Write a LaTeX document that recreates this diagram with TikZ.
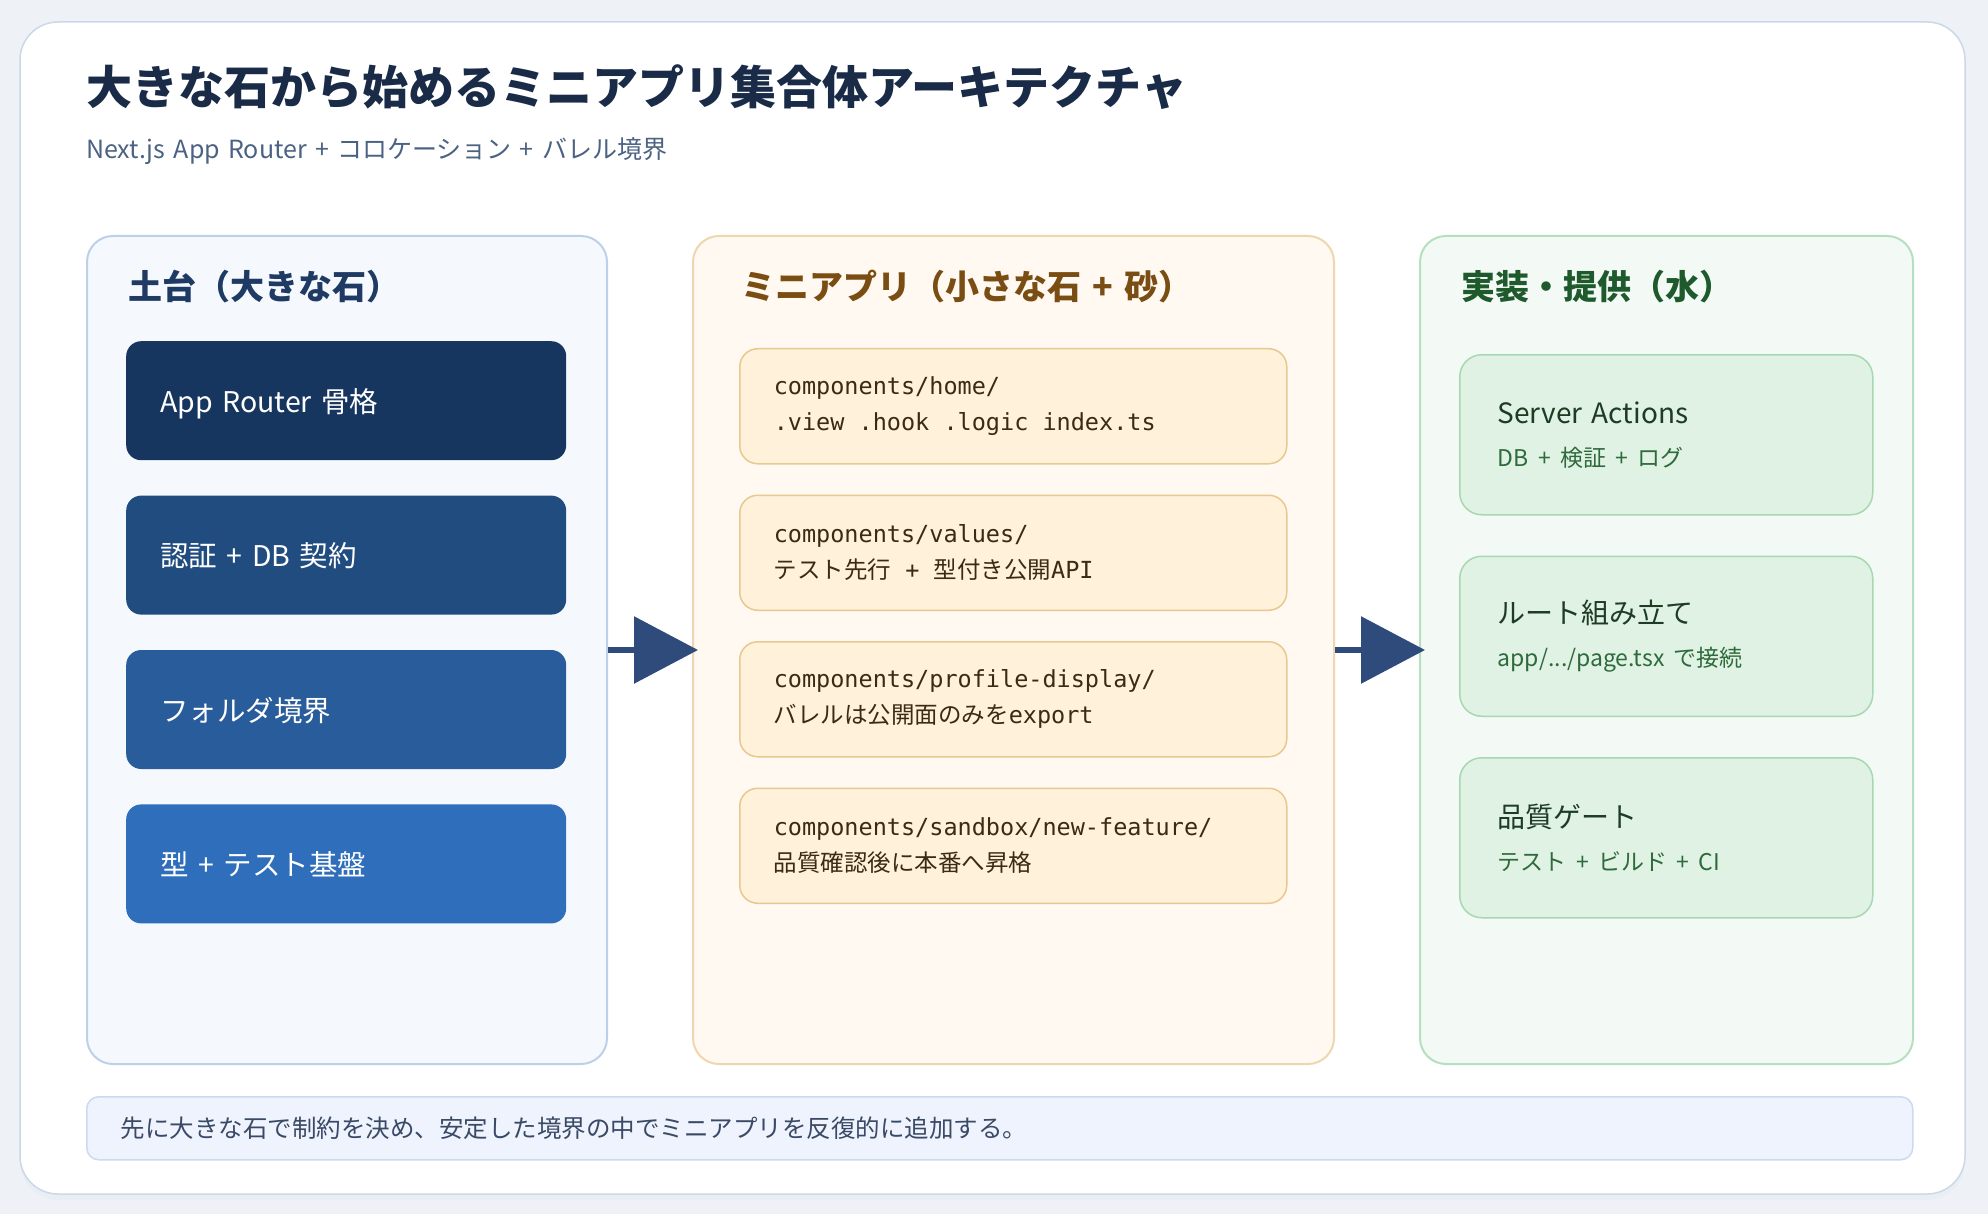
\documentclass[tikz,border=0pt]{standalone}
\usepackage{fontspec}
\setmainfont{Noto Sans CJK JP}
\setmonofont{DejaVu Sans Mono}
\newfontfamily\jpfont{Noto Sans CJK JP}
\usetikzlibrary{arrows.meta, positioning, calc, shadows}
\definecolor{pageBg}{HTML}{EEF2F7}
\definecolor{cardEdge}{HTML}{CCD8E8}
\definecolor{titleInk}{HTML}{1A2B48}
\definecolor{subInk}{HTML}{4B6283}
\definecolor{baseEdge}{HTML}{BCD0EA}
\definecolor{baseBg}{HTML}{F5F9FD}
\definecolor{baseInk}{HTML}{1F3A63}
\definecolor{stoneA}{HTML}{17365F}
\definecolor{stoneB}{HTML}{214C80}
\definecolor{stoneC}{HTML}{295C9B}
\definecolor{stoneD}{HTML}{2E6EBB}
\definecolor{miniEdge}{HTML}{EFD6AE}
\definecolor{miniBg}{HTML}{FFF9F1}
\definecolor{miniInk}{HTML}{7A4D12}
\definecolor{sandEdge}{HTML}{E8C88F}
\definecolor{sandBg}{HTML}{FFF1DA}
\definecolor{sandInk}{HTML}{3B2A14}
\definecolor{waterEdge}{HTML}{B6DFC0}
\definecolor{waterBg}{HTML}{F3FAF5}
\definecolor{waterInk}{HTML}{1F5A2C}
\definecolor{poolEdge}{HTML}{A8D8B2}
\definecolor{poolBg}{HTML}{DFF2E3}
\definecolor{poolInk}{HTML}{1D3B25}
\definecolor{poolSub}{HTML}{2E6A3B}
\definecolor{arrowInk}{HTML}{2F4B7C}
\definecolor{noteBg}{HTML}{EEF3FD}
\definecolor{noteEdge}{HTML}{CDD9EE}
\definecolor{noteInk}{HTML}{3A4A66}
\newcommand\poolsub[1]{{\fontsize{23}{28}\selectfont\color{poolSub}#1}}
\newcommand\ttgap{\spaceskip=0pt\relax}
\newcommand\wordgap{\spaceskip=0.33em\relax}
\tikzset{
    board/.style={x=1pt, y=1pt, line join=round, line cap=round},
    card/.style={draw=cardEdge, line width=1.5pt, fill=white,
                 rounded corners=38pt,
                 drop shadow={shadow xshift=0pt, shadow yshift=-6pt,
                              opacity=0.12, fill=cardEdge}},
    headline/.style={font=\fontsize{46}{52}\selectfont\bfseries,
                     text=titleInk, anchor=west, inner sep=0pt},
    subline/.style={font=\fontsize{25}{30}\selectfont, text=subInk,
                    anchor=west, inner sep=0pt,
                    execute at begin node=\wordgap},
    column/.style={line width=2pt, rounded corners=26pt, anchor=north west,
                   minimum height=828pt},
    colhead/.style={font=\fontsize{34}{40}\selectfont\bfseries,
                    anchor=west, inner sep=0pt,
                    execute at begin node=\wordgap},
    stone/.style={rounded corners=15pt, text=white,
                  font=\fontsize{28.5}{34}\selectfont, minimum height=119pt,
                  text width=372pt, inner xsep=34pt, align=left,
                  text depth=1pt},
    sand/.style={draw=sandEdge, line width=1.5pt, fill=sandBg,
                 rounded corners=18pt, text=sandInk,
                 font=\ttfamily\fontsize{23.5}{36}\selectfont,
                 minimum height=115pt, text width=479pt, inner xsep=34pt,
                 align=left, execute at begin node=\ttgap},
    pool/.style={draw=poolEdge, line width=1.5pt, fill=poolBg,
                 rounded corners=22pt, text=poolInk,
                 font=\fontsize{28}{34}\selectfont, minimum height=160pt,
                 text width=337pt, inner xsep=38pt, align=left},
    flow/.style={-{Triangle[length=64pt, width=66pt]}, line width=6pt,
                 draw=arrowInk, shorten >=-6pt, line cap=butt},
    note/.style={draw=noteEdge, line width=1.5pt, fill=noteBg,
                 rounded corners=12pt, text=noteInk,
                 font=\fontsize{24.5}{30}\selectfont, minimum height=63pt,
                 text width=1758pt, inner xsep=34pt, align=left,
                 anchor=north west},
}

\begin{document}
\begin{tikzpicture}[board]

% ─── Fond et carte ──────────────────────────────────────────────────────
\fill[pageBg] (0,0) rectangle (1988,-1214);
\path[card] (20,-22) rectangle (1965,-1194);

\node[headline] (title) at (86,-87) {大きな石から始めるミニアプリ集合体アーキテクチャ};
\node[subline] (subtitle) at (86,-151) {Next.js App Router + コロケーション + バレル境界};

% ─── Colonnes ───────────────────────────────────────────────────────────
\node[column, draw=baseEdge, fill=baseBg, minimum width=520pt] (base) at (86,-235) {};
\node[column, draw=miniEdge, fill=miniBg, minimum width=641pt] (mini) at (692,-235) {};
\node[column, draw=waterEdge, fill=waterBg, minimum width=493pt] (water) at (1419,-235) {};

% ─── 土台 ───────────────────────────────────────────────────────────────
\node[colhead, text=baseInk] (baseHead) at ($(base.north west)+(42,-52)$) {土台（大きな石）};
\node[stone, fill=stoneA, anchor=north west] (router) at ($(base.north west)+(40,-106)$) {App Router 骨格};
\node[stone, fill=stoneB, below=35pt of router] (auth) {認証 + DB 契約};
\node[stone, fill=stoneC, below=35pt of auth] (folders) {フォルダ境界};
\node[stone, fill=stoneD, below=35pt of folders] (typing) {型 + テスト基盤};

% ─── ミニアプリ ─────────────────────────────────────────────────────────
\node[colhead, text=miniInk] (miniHead) at ($(mini.north west)+(49,-52)$) {ミニアプリ（小さな石 + 砂）};
\node[sand, anchor=north west] (home) at ($(mini.north west)+(47,-113)$)
    {components/home/\\.view .hook .logic index.ts};
\node[sand, below=30pt of home] (values)
    {components/values/\\{\jpfont テスト先行} + {\jpfont 型付き公開}API};
\node[sand, below=30pt of values] (profile)
    {components/profile-display/\\{\jpfont バレルは公開面のみを}export};
\node[sand, below=30pt of profile] (sandbox)
    {components/sandbox/new-feature/\\{\jpfont 品質確認後に本番へ昇格}};

% ─── 実装・提供 ─────────────────────────────────────────────────────────
\node[colhead, text=waterInk] (waterHead) at ($(water.north west)+(42,-52)$) {実装・提供（水）};
\node[pool, anchor=north west] (actions) at ($(water.north west)+(40,-119)$)
    {Server Actions\\[9pt]\poolsub{DB + 検証 + ログ}};
\node[pool, below=40pt of actions] (routes)
    {ルート組み立て\\[9pt]\poolsub{app/.../page.tsx で接続}};
\node[pool, below=40pt of routes] (gate)
    {品質ゲート\\[9pt]\poolsub{テスト + ビルド + CI}};

% ─── Flèches ────────────────────────────────────────────────────────────
\draw[flow] (base.east) -- (mini.west);
\draw[flow] (mini.east) -- (water.west);

% ─── Résumé ─────────────────────────────────────────────────────────────
\node[note] (summary) at (86,-1096) {先に大きな石で制約を決め、安定した境界の中でミニアプリを反復的に追加する。};

\end{tikzpicture}
\end{document}
